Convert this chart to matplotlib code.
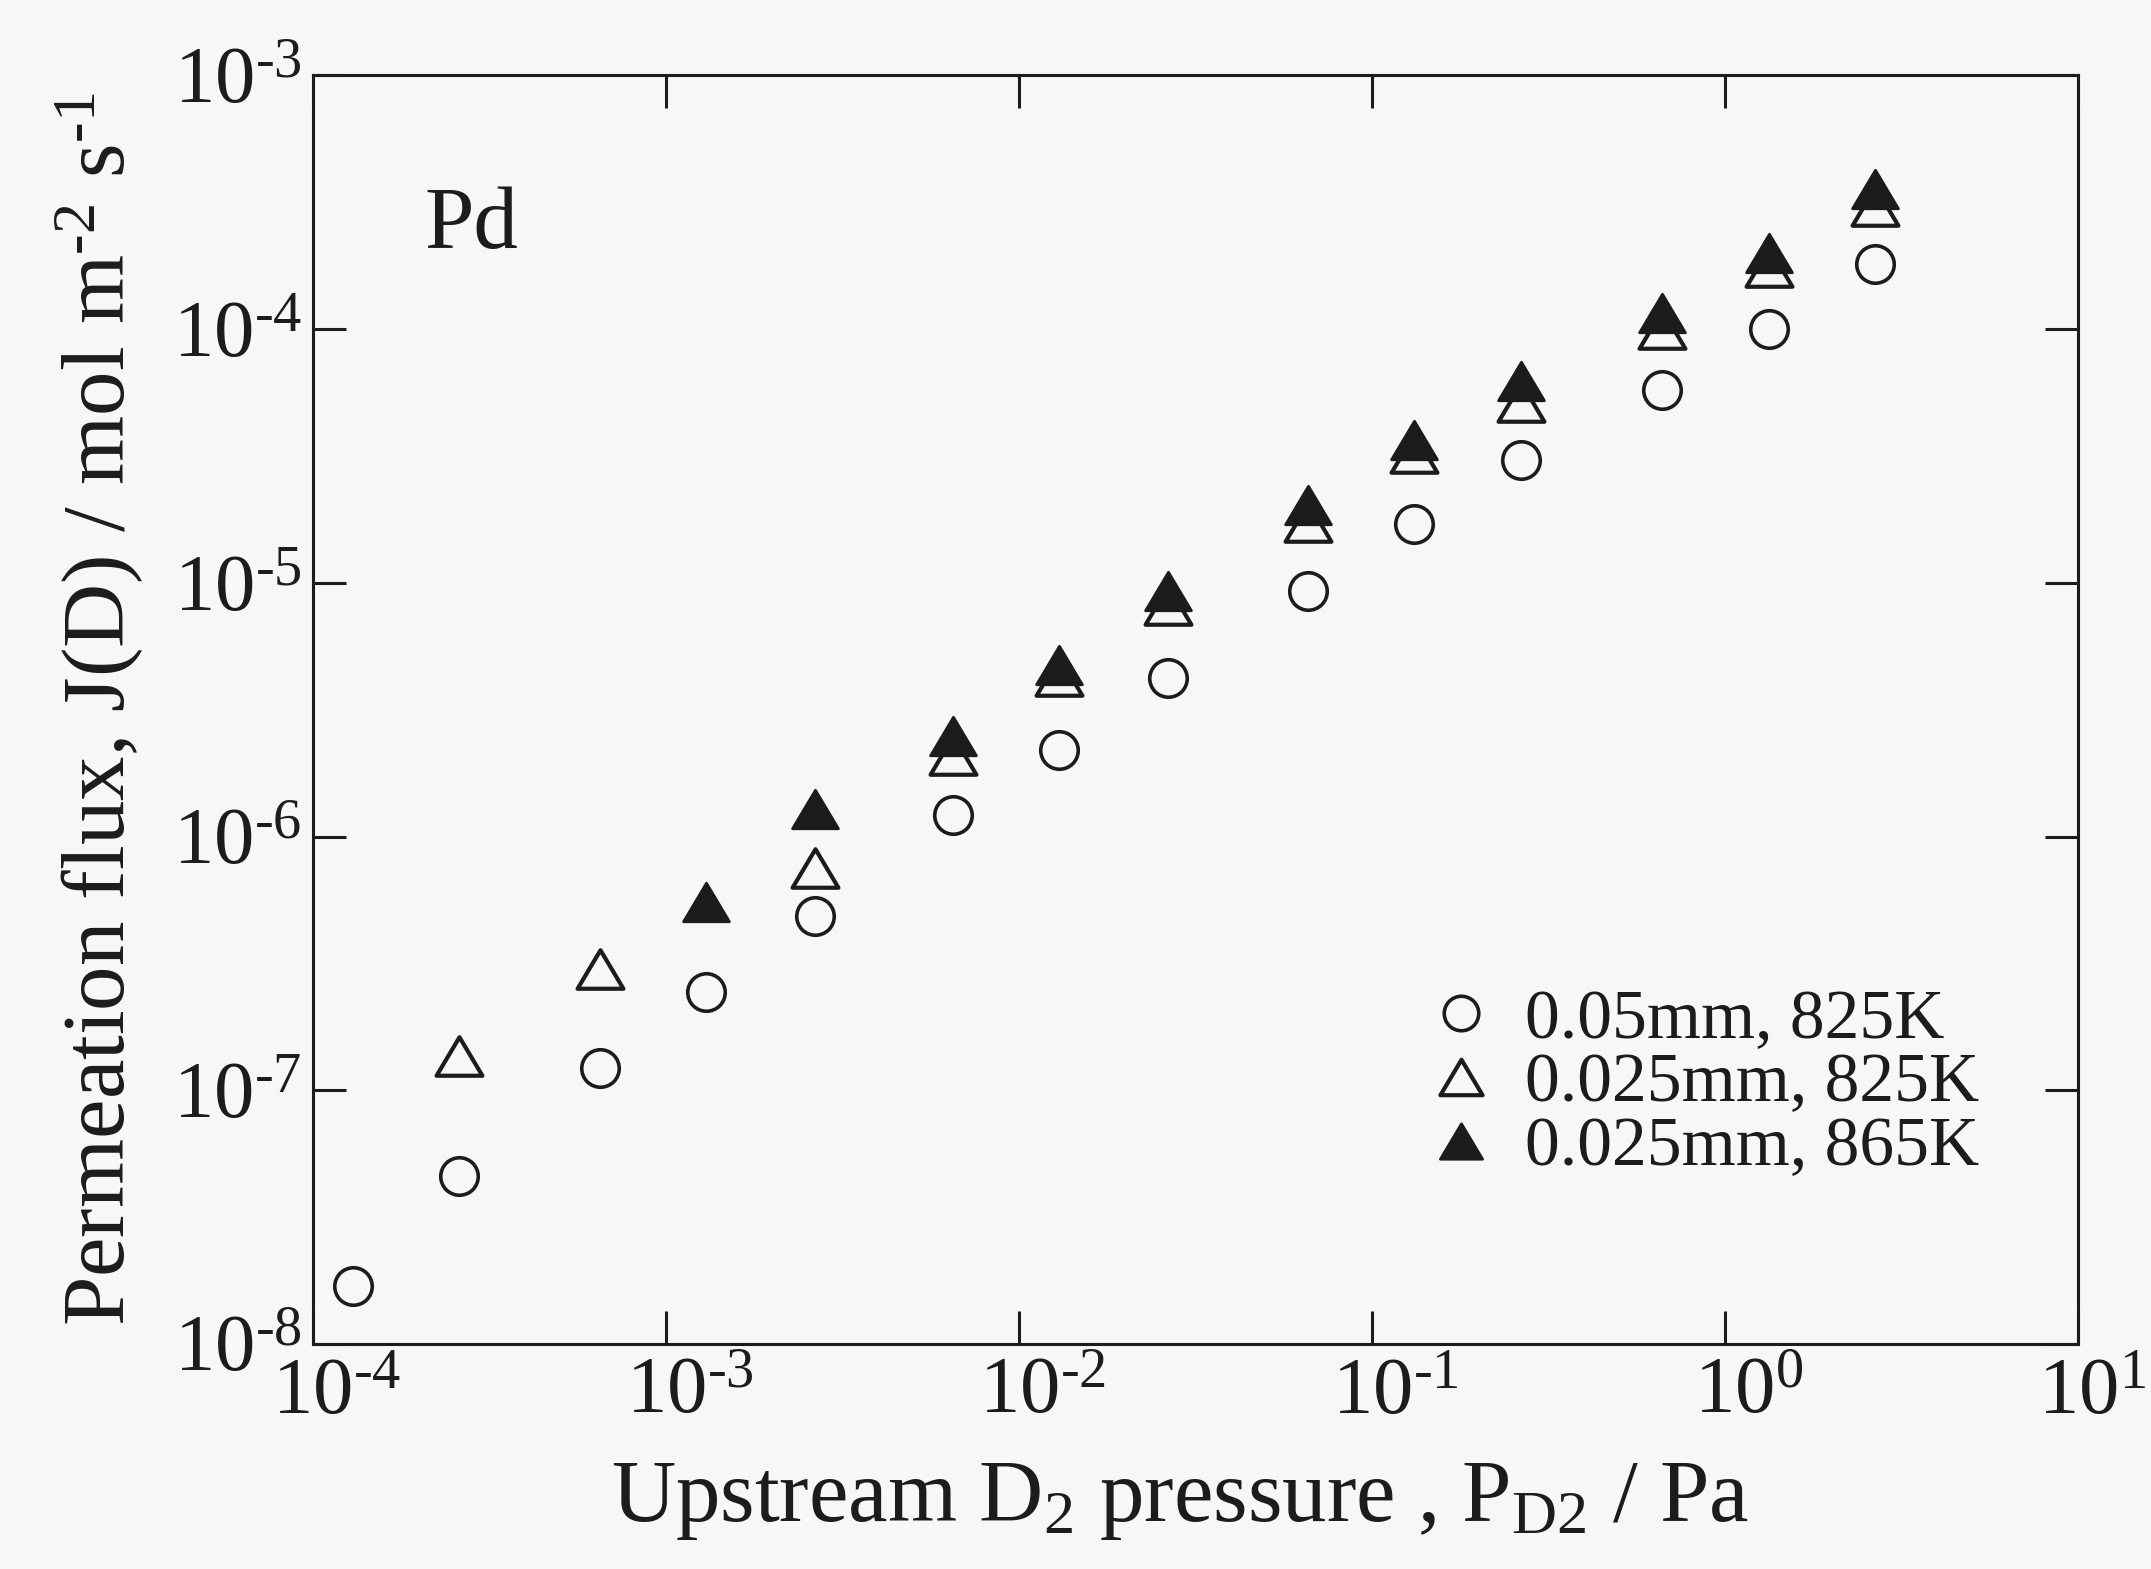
import numpy as np
import matplotlib
matplotlib.use("Agg")
import matplotlib.pyplot as plt
from matplotlib.path import Path
from matplotlib.transforms import ScaledTranslation

plt.rcParams['font.family'] = ['Liberation Serif', 'DejaVu Serif']
plt.rcParams['mathtext.fontset'] = 'custom'
plt.rcParams['mathtext.rm'] = 'Liberation Serif'
plt.rcParams['mathtext.it'] = 'Liberation Serif:italic'

# upstream D2 pressure (Pa)
p_thick = [1.3e-4, 2.6e-4, 6.5e-4, 1.3e-3, 2.65e-3, 6.5e-3, 1.3e-2, 2.65e-2,
           6.6e-2, 0.132, 0.265, 0.665, 1.33, 2.67]
p_thin_825 = [2.6e-4, 6.5e-4, 2.65e-3, 6.5e-3, 1.3e-2, 2.65e-2, 6.6e-2, 0.132,
              0.265, 0.665, 1.33, 2.67]
p_thin_865 = [1.3e-3, 2.65e-3, 6.5e-3, 1.3e-2, 2.65e-2, 6.6e-2, 0.132, 0.265,
              0.665, 1.33, 2.67]

# permeation flux (mol m-2 s-1)
j_thick = [1.7e-8, 4.6e-8, 1.22e-7, 2.45e-7, 4.85e-7, 1.22e-6, 2.2e-6, 4.2e-6,
           9.3e-6, 1.71e-5, 3.05e-5, 5.75e-5, 1.0e-4, 1.8e-4]
j_thin_825 = [1.36e-7, 3.0e-7, 7.5e-7, 2.1e-6, 4.3e-6, 8.2e-6, 1.73e-5,
              3.25e-5, 5.15e-5, 1.0e-4, 1.75e-4, 3.05e-4]
j_thin_865 = [5.5e-7, 1.28e-6, 2.5e-6, 4.75e-6, 9.3e-6, 2.03e-5, 3.65e-5,
              6.25e-5, 1.16e-4, 2.0e-4, 3.55e-4]

labels = ['0.05mm, 825K', '0.025mm, 825K', '0.025mm, 865K']

ink = '#1c1c1c'
bg = '#f7f7f8'
HY = '\u2010'  # short hyphen for the exponents


def pow10(e):
    s = str(abs(e))
    if e < 0:
        s = HY + s
    return '$10^{' + s + '}$'


# wide, flat triangle
tri = Path([(-0.5, -0.42), (0.5, -0.42), (0.0, 0.42), (-0.5, -0.42)],
           [Path.MOVETO, Path.LINETO, Path.LINETO, Path.CLOSEPOLY])

fig = plt.figure(figsize=(10.755, 7.845), dpi=200, facecolor=bg)
ax = fig.add_axes([0.1455, 0.1434, 0.8205, 0.8086], facecolor=bg)

ax.plot(p_thick, j_thick, 'o', ls='none', ms=13.5, mfc='none', mec=ink,
        mew=1.3, label=labels[0])
ax.plot(p_thin_825, j_thin_825, marker=tri, ls='none', ms=16.5, mfc='none',
        mec=ink, mew=1.5, label=labels[1])
ax.plot(p_thin_865, j_thin_865, marker=tri, ls='none', ms=16.5, mfc=ink,
        mec=ink, mew=1.0, label=labels[2])

ax.set_xscale('log')
ax.set_yscale('log')
ax.set_xlim(1e-4, 1e1)
ax.set_ylim(1e-8, 1e-3)

x_exp = [-4, -3, -2, -1, 0, 1]
y_exp = [-8, -7, -6, -5, -4, -3]
ax.set_xticks([10.0 ** e for e in x_exp])
ax.set_yticks([10.0 ** e for e in y_exp])
ax.set_xticklabels([pow10(e) for e in x_exp])
ax.set_yticklabels([pow10(e) for e in y_exp])
ax.minorticks_off()
ax.tick_params(which='major', direction='in', length=12, width=1.1,
               color=ink, labelcolor=ink, labelsize=29,
               top=True, right=True)
ax.tick_params(axis='x', pad=5)
ax.tick_params(axis='y', pad=4)

# keep the "10" centred on each x tick (last one pulled in from the edge)
ticks = ax.xaxis.get_major_ticks()
for i, t in enumerate(ticks):
    dx = 8.5 if i < len(ticks) - 1 else 5.0
    t.label1.set_transform(t.label1.get_transform() +
                           ScaledTranslation(dx / 72, 0, fig.dpi_scale_trans))

for s in ax.spines.values():
    s.set_linewidth(1.1)
    s.set_color(ink)

ax.set_xlabel(r'Upstream D$_2$ pressure , P$_{\mathrm{D2}}$ / Pa',
              fontsize=32, color=ink, labelpad=11)
ax.xaxis.label.set_x(0.4915)
ax.set_ylabel('Permeation flux, J(D) / mol m$^{' + HY + '2}$ s$^{' + HY + '1}$',
              fontsize=32, color=ink, labelpad=10)

ax.text(0.063, 0.864, 'Pd', transform=ax.transAxes, fontsize=32,
        color=ink, va='baseline')

ax.legend(loc='upper left', bbox_to_anchor=(0.631, 0.2797), frameon=False,
          fontsize=25, markerscale=0.92, handlelength=1.0, handletextpad=0.42,
          labelspacing=0.0, borderaxespad=0, borderpad=0, labelcolor=ink)

fig.savefig('out.png', dpi=200, facecolor=bg)
